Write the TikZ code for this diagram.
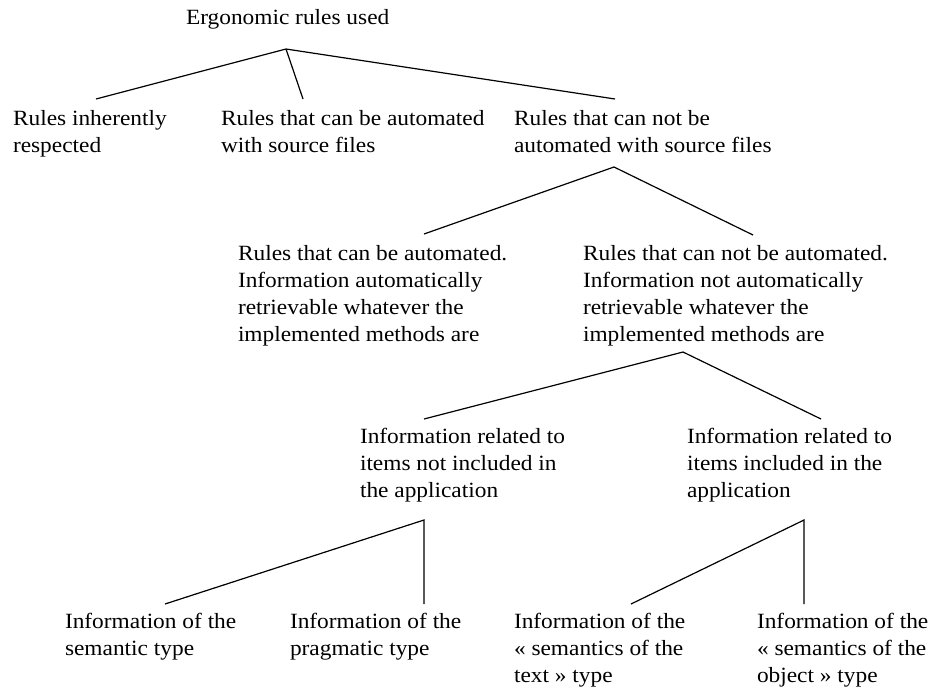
\documentclass[tikz,border=0pt]{standalone}
\usepackage{fontspec}
\setmainfont{Liberation Serif}[FakeStretch=1.075]
\newcommand{\ml}[1]{\begin{tabular}[t]{@{}l@{}}#1\end{tabular}}
\tikzset{
  lbl/.style={anchor=base west, inner sep=0pt, outer sep=0pt, font=\fontsize{16.3}{20.25}\selectfont},
  br/.style={line width=0.9pt, line join=miter}
}
\begin{document}
\begin{tikzpicture}[x=0.75pt, y=-0.75pt]
\useasboundingbox (0,0) rectangle (931,690);
% texts
\node[lbl] (root) at (186,24) {Ergonomic rules used};
\node[lbl] (a1) at (13,125) {\ml{Rules inherently\\respected}};
\node[lbl] (a2) at (221,125) {\ml{Rules that can be automated\\with source files}};
\node[lbl] (a3) at (514,125) {\ml{Rules that can not be\\automated with source files}};
\node[lbl] (b1) at (238,260) {\ml{Rules that can be automated.\\Information automatically\\retrievable whatever the\\implemented methods are}};
\node[lbl] (b2) at (583,260) {\ml{Rules that can not be automated.\\Information not automatically\\retrievable whatever the\\implemented methods are}};
\node[lbl] (c1) at (360,443) {\ml{Information related to\\items not included in\\the application}};
\node[lbl] (c2) at (687,443) {\ml{Information related to\\items included in the\\application}};
\node[lbl] (d1) at (65,628) {\ml{Information of the\\semantic type}};
\node[lbl] (d2) at (290,628) {\ml{Information of the\\pragmatic type}};
\node[lbl] (d3) at (514,628) {\ml{Information of the\\« semantics of the\\text » type}};
\node[lbl] (d4) at (757,628) {\ml{Information of the\\« semantics of the\\object » type}};
% branch points and ends
\coordinate (p0) at (286,49);
\coordinate (e01) at (96,99);
\coordinate (e02) at (303,99);
\coordinate (e03) at (615,99);
\coordinate (p1) at (614,167);
\coordinate (e11) at (424,234);
\coordinate (e12) at (753,235);
\coordinate (p2) at (683,352);
\coordinate (e21) at (424,419);
\coordinate (e22) at (821,419);
\coordinate (p3) at (424,520);
\coordinate (e31) at (165,604);
\coordinate (e32) at (424,604);
\coordinate (p4) at (804,520);
\coordinate (e41) at (631,604);
\coordinate (e42) at (804,604);
% connectors
\draw[br] (e01) -- (p0) -- (e03);
\draw[br] (p0) -- (e02);
\draw[br] (e11) -- (p1) -- (e12);
\draw[br] (e21) -- (p2) -- (e22);
\draw[br] (e31) -- (p3) -- (e32);
\draw[br] (e41) -- (p4) -- (e42);
\end{tikzpicture}
\end{document}
